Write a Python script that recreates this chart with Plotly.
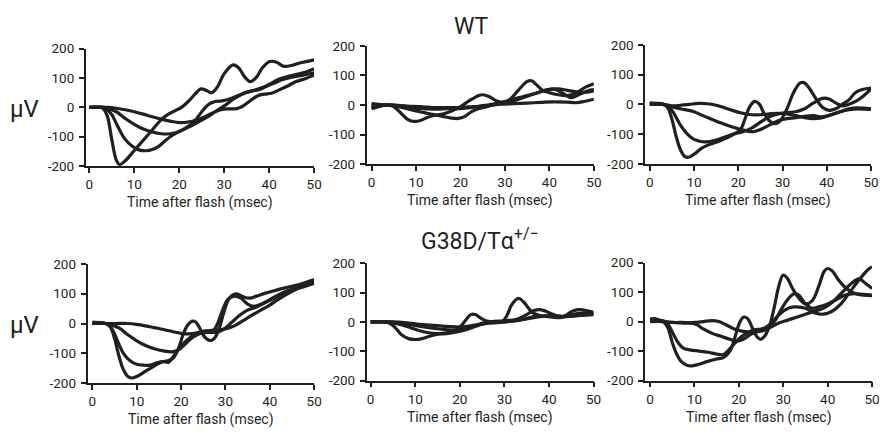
import plotly.graph_objects as go

# ---------------- data: (time msec, microvolts) ----------------
# WT, left panel
wt_left_a = [(0,0),(2,0),(3,-3),(4,-30),(5,-110),(6,-180),(6.7,-195),(8,-182),(10,-147),(12,-112),(14,-77),(16,-42),(17.5,-24),(19,-12),(20.5,0),(22,20),(23.5,45),(24.8,63),(26,58),(27.2,50),(28.5,70),(30,115),(32,145),(33.2,135),(34.5,105),(35.7,88),(37,100),(38.5,135),(40,156),(41.5,155),(43.3,140),(45,143),(47,152),(50,162)]
wt_left_b = [(0,0),(3,0),(4,-8),(5,-25),(6,-55),(7,-85),(8,-110),(9.5,-132),(11,-145),(12.5,-148),(14,-144),(15.5,-132),(17,-112),(18.5,-95),(20,-82),(22,-65),(23.5,-45),(25,-15),(26.5,10),(28,20),(29.5,22),(31,28),(33,40),(35,52),(37,60),(39,70),(41,82),(43,95),(45,103),(47,108),(50,118)]
wt_left_c = [(0,0),(3,0),(4,-3),(6,-15),(8,-38),(10,-58),(12,-74),(14,-84),(16,-90),(18,-90),(20,-82),(22,-68),(24,-52),(26,-35),(28,-15),(30,5),(32,28),(34,45),(36,55),(38,62),(40,78),(42,95),(44,105),(46,112),(48,120),(50,132)]
wt_left_d = [(0,0),(4,0),(6,-3),(8,-8),(10,-15),(12,-23),(14,-32),(16,-40),(18,-47),(20,-52),(22,-50),(24,-42),(26,-30),(28,-15),(29.5,-7),(31,-5),(32.5,-5),(34,3),(36,25),(37.5,40),(39,45),(40.5,48),(42,58),(44,72),(46,88),(48,98),(50,110)]

# WT, middle panel
wt_mid_a = [(0,-10),(1,-5),(2,-2),(3,0),(4,0),(5,-5),(6,-18),(7,-33),(8,-47),(9.5,-55),(11,-52),(12.5,-42),(14,-35),(16,-30),(18,-20),(20,-5),(22,15),(24,32),(25,35),(26.5,28),(28,15),(29.5,10),(31,18),(33,50),(35,80),(36,82),(37,70),(38.5,50),(40,42),(42,35),(44,32),(46,40),(48,60),(50,72)]
wt_mid_b = [(0,5),(2,2),(4,0),(6,-5),(8,-12),(10,-20),(12,-26),(14,-32),(16,-38),(18,-44),(19.5,-45),(21,-38),(22.5,-22),(24,-12),(26,-5),(28,3),(30,8),(32,15),(34,25),(36,35),(38,45),(40,52),(42,55),(44,50),(46,45),(48,43),(50,48)]
wt_mid_c = [(0,0),(3,0),(5,0),(7,-5),(9,-10),(11,-12),(13,-13),(15,-14),(17,-12),(19,-12),(21,-10),(23,-7),(25,-2),(27,3),(29,8),(31,15),(33,25),(35,32),(37,40),(39,50),(41,55),(43,40),(45,25),(47,38),(49,50),(50,52)]
wt_mid_d = [(0,-12),(1,-8),(3,0),(5,0),(8,-3),(11,-5),(14,-8),(17,-8),(20,-8),(23,-5),(26,-2),(29,3),(32,5),(35,7),(38,9),(41,11),(44,10),(46,8),(48,13),(50,20)]

# WT, right panel
wt_right_a = [(0,5),(2,2),(3,0),(4,-10),(5,-50),(6,-110),(7,-155),(8,-176),(8.8,-178),(10,-168),(11.5,-150),(13,-138),(15,-128),(17,-115),(19,-100),(20.5,-85),(21.5,-50),(22.5,-10),(23.7,10),(24.8,0),(25.8,-30),(27,-55),(28.5,-65),(29.5,-55),(31,-15),(32.5,40),(34,72),(35,72),(36,55),(37.5,20),(39,-10),(40.5,-20),(42,-15),(43.5,0),(45,15),(46.5,40),(48,50),(50,55)]
wt_right_b = [(0,0),(2,3),(3,0),(4,-5),(5,-20),(6,-45),(7,-72),(8.5,-100),(10,-118),(11.5,-125),(13,-126),(15,-120),(17,-110),(19,-100),(21,-92),(23,-80),(25,-60),(27,-42),(29,-32),(31,-28),(33,-25),(35,-15),(37,5),(39,20),(40.5,18),(42,5),(43.5,-5),(45,0),(46.5,10),(48,25),(50,52)]
wt_right_c = [(0,0),(3,0),(4,-3),(6,-12),(8,-18),(10,-25),(12,-38),(14,-50),(16,-62),(18,-73),(20,-82),(22,-90),(23.5,-92),(25,-85),(27,-70),(29,-55),(31,-48),(33,-45),(35,-40),(37,-38),(39,-42),(41,-35),(43,-25),(45,-15),(47,-12),(50,-15)]
wt_right_d = [(0,0),(3,0),(5,-5),(7,-3),(9,0),(11,3),(13,2),(15,-3),(17,-12),(19,-22),(21,-30),(23,-35),(25,-35),(27,-32),(29,-30),(31,-32),(33,-38),(35,-45),(37,-48),(39,-45),(41,-35),(43,-25),(45,-18),(47,-15),(50,-17)]

# G38D/Ta+/-, left panel
mut_left_a = [(0,5),(2,3),(3,0),(4,-10),(5,-50),(6,-110),(7,-155),(8,-178),(8.8,-183),(10,-178),(12,-160),(14,-142),(15.5,-130),(17,-125),(18.3,-115),(19.5,-80),(20.5,-35),(21.5,-5),(22.5,8),(23.3,5),(24.2,-15),(25.3,-45),(26.5,-57),(27.5,-50),(28.5,-20),(29.5,30),(30.5,75),(31.5,95),(32.5,100),(34,90),(35.5,85),(37,92),(39,102),(41,110),(43,118),(45,125),(47,133),(50,148)]
mut_left_b = [(0,0),(3,0),(4,-10),(5,-35),(6,-70),(7,-100),(8.5,-125),(10,-137),(11.5,-140),(13,-140),(14.5,-132),(16,-128),(17.2,-130),(18.3,-110),(19.5,-85),(21,-60),(22.5,-42),(24,-30),(25.5,-25),(26.5,-28),(27.5,-20),(28.5,10),(29.5,50),(30.5,80),(32,92),(33.5,85),(35,65),(36.5,58),(38,65),(40,80),(42,97),(44,110),(46,120),(48,130),(50,140)]
mut_left_c = [(0,0),(3,0),(4,-3),(6,-15),(8,-38),(10,-58),(12,-74),(14,-85),(16,-92),(18,-95),(19.5,-88),(21,-68),(22.5,-48),(24,-35),(25.5,-30),(27,-30),(28.5,-28),(30,-15),(31.5,5),(33,25),(35,45),(37,55),(39,70),(41,85),(43,100),(45,112),(47,122),(50,135)]
mut_left_d = [(0,0),(5,0),(8,0),(10,-3),(12,-8),(14,-14),(16,-20),(18,-27),(20,-33),(22,-35),(24,-30),(26,-25),(28,-22),(30,-18),(32,-8),(34,10),(36,28),(38,45),(40,62),(42,82),(44,100),(46,115),(48,125),(50,135)]

# G38D/Ta+/-, middle panel
mut_mid_a = [(0,0),(3,0),(4,-3),(5,-12),(6,-28),(7,-45),(8.5,-57),(10,-60),(11.5,-57),(13,-50),(15,-42),(17,-37),(19,-30),(20.5,-10),(21.5,10),(22.5,25),(23.5,25),(24.5,15),(26,3),(28,0),(29.5,2),(30.5,20),(31.5,55),(32.5,75),(33.3,80),(34.5,65),(35.5,45),(36.5,30),(38,22),(40,18),(42,15),(44,20),(46,28),(48,30),(50,28)]
mut_mid_b = [(0,0),(3,0),(5,-3),(7,-10),(9,-20),(11,-30),(13,-37),(15,-40),(17,-40),(19,-35),(21,-28),(23,-18),(25,-8),(27,0),(29,3),(31,5),(33,10),(35,25),(36.5,38),(38,42),(39.5,35),(41,25),(42.5,15),(44,25),(45.5,38),(47,42),(48.5,38),(50,33)]
mut_mid_c = [(0,0),(4,0),(7,-5),(10,-12),(13,-20),(16,-25),(19,-28),(21,-25),(23,-15),(25,-5),(27,0),(29,0),(31,2),(33,5),(35,12),(37,20),(39,20),(41,18),(43,18),(45,20),(47,25),(50,30)]
mut_mid_d = [(0,0),(5,0),(8,-3),(11,-8),(14,-12),(17,-15),(20,-18),(23,-12),(26,-5),(29,-2),(32,3),(35,10),(38,18),(41,22),(44,18),(47,22),(50,25)]

# G38D/Ta+/-, right panel
mut_right_a = [(0,8),(1,10),(2,5),(3,0),(4,-20),(5,-70),(6,-110),(7,-135),(8.3,-148),(9.5,-150),(11,-145),(13,-135),(15,-127),(16.5,-122),(18,-100),(19,-60),(20,-10),(21,15),(22,10),(23,-20),(24,-50),(24.8,-60),(25.8,-50),(27,-10),(28,50),(29,120),(30,158),(31,145),(32,115),(33.5,80),(35,60),(36.5,70),(38,120),(39.2,170),(40,180),(41,172),(42.5,140),(44,115),(45.5,100),(47,92),(50,88)]
mut_right_b = [(0,5),(2,5),(3.5,0),(4.5,-20),(5.5,-50),(6.5,-75),(7.5,-90),(9,-96),(11,-100),(13,-104),(15,-110),(16.5,-112),(17.5,-100),(19,-75),(20.5,-52),(22,-38),(23.5,-28),(25,-25),(26.5,-20),(28,0),(29.5,40),(31,75),(32.5,95),(33.5,90),(35,60),(36.5,45),(38,50),(40,60),(42,75),(44,90),(46,95),(48,92),(50,90)]
mut_right_c = [(0,3),(3,0),(5,-3),(7,-3),(9,-5),(10.5,-10),(12,-25),(14,-40),(16,-50),(18,-60),(19.5,-66),(21,-60),(22.5,-45),(24,-35),(25.5,-25),(27,-10),(28.5,15),(30,35),(31.5,48),(33,50),(35,45),(37,30),(39,25),(41,35),(43,60),(45,100),(47,140),(49,175),(50,186)]
mut_right_d = [(0,0),(3,0),(5,-3),(8,-5),(10,-3),(12,0),(14,3),(15.5,0),(17,-10),(19,-25),(21,-33),(23,-35),(25,-33),(27,-20),(29,-5),(31,5),(33,15),(35,25),(37,35),(39,45),(41,65),(43,95),(45,125),(47,145),(48.5,130),(50,112)]

x_ticks = [0, 10, 20, 30, 40, 50]
y_ticks = [-200, -100, 0, 100, 200]
y_tick_labels = ["-200", "-100", "0", "100", "200"]
x_title = "Time after flash (msec)"
y_title = "\u03bcV"
top_title = "WT"
bottom_title = "G38D/T\u03b1<sup>+/\u2212</sup>"

panels = [
    [wt_left_a, wt_left_b, wt_left_c, wt_left_d],
    [wt_mid_a, wt_mid_b, wt_mid_c, wt_mid_d],
    [wt_right_a, wt_right_b, wt_right_c, wt_right_d],
    [mut_left_a, mut_left_b, mut_left_c, mut_left_d],
    [mut_mid_a, mut_mid_b, mut_mid_c, mut_mid_d],
    [mut_right_a, mut_right_b, mut_right_c, mut_right_d],
]

# ---------------- layout geometry (pixels) ----------------
W, H = 886, 437
INK = "#231f20"
FONT = "Roboto"
# (x_left, x_right, y_top, y_bottom, x_range_start)
geom = [
    (86.5, 317.0, 42.3, 164.0, -0.8),
    (370.0, 599.3, 39.3, 162.3, -1.1),
    (651.0, 879.0, 38.3, 161.7, -1.05),
    (88.3, 317.0, 265.7, 389.3, -1.1),
    (370.0, 599.0, 265.0, 386.7, -0.9),
    (651.0, 880.0, 264.3, 386.7, -1.1),
]

fig = go.Figure()
layout = dict(
    width=W, height=H, margin=dict(l=0, r=0, t=0, b=0),
    paper_bgcolor="white", plot_bgcolor="white", showlegend=False,
    font=dict(family=FONT, color=INK),
)
annotations = []
for i, (traces, g) in enumerate(zip(panels, geom), start=1):
    xl, xr, yt, yb, x0 = g
    sfx = "" if i == 1 else str(i)
    for tr in traces:
        fig.add_trace(go.Scatter(
            x=[p[0] for p in tr], y=[p[1] for p in tr], mode="lines",
            line=dict(color=INK, width=3.2, shape="spline", smoothing=1.0),
            xaxis="x" + sfx, yaxis="y" + sfx, hoverinfo="skip",
        ))
    layout["xaxis" + sfx] = dict(
        domain=[xl / W, xr / W], range=[x0, 50], anchor="y" + sfx,
        showline=True, linecolor=INK, linewidth=1.6, mirror=False,
        ticks="outside", ticklen=5, tickwidth=1.6, tickcolor=INK,
        tickvals=x_ticks, showgrid=False, zeroline=False,
        tickfont=dict(family=FONT, size=13.5, color=INK),
    )
    layout["yaxis" + sfx] = dict(
        domain=[1 - yb / H, 1 - yt / H], range=[-200, 200], anchor="x" + sfx,
        showline=True, linecolor=INK, linewidth=1.6,
        ticks="outside", ticklen=5, tickwidth=1.6, tickcolor=INK,
        tickvals=y_ticks, ticktext=y_tick_labels, showgrid=False, zeroline=False,
        ticklabelstandoff=2,
        tickfont=dict(family=FONT, size=13.5, color=INK),
    )
    # x axis title
    annotations.append(dict(
        text=x_title, x=(xl + xr) / 2 / W, y=1 - (yb + 38) / H,
        xref="paper", yref="paper", xanchor="center", yanchor="middle",
        showarrow=False, font=dict(family=FONT, size=14, color=INK),
    ))

# microvolt labels
for yc in (105, 329):
    annotations.append(dict(
        text=y_title, x=25 / W, y=1 - yc / H, xref="paper", yref="paper",
        xanchor="center", yanchor="middle", showarrow=False,
        font=dict(family=FONT, size=24, color=INK),
    ))
annotations.append(dict(
    text=top_title, x=456 / W, y=1 - 19 / H, xref="paper", yref="paper",
    xanchor="left", yanchor="middle", showarrow=False,
    font=dict(family=FONT, size=23, color=INK),
))
annotations.append(dict(
    text=bottom_title, x=423 / W, y=1 - 240 / H, xref="paper", yref="paper",
    xanchor="left", yanchor="middle", showarrow=False,
    font=dict(family=FONT, size=23, color=INK),
))
layout["annotations"] = annotations
fig.update_layout(**layout)

fig.write_html(
    "out.html",
    config={"displayModeBar": False},
    post_script="document.body.style.margin='0';",
)
